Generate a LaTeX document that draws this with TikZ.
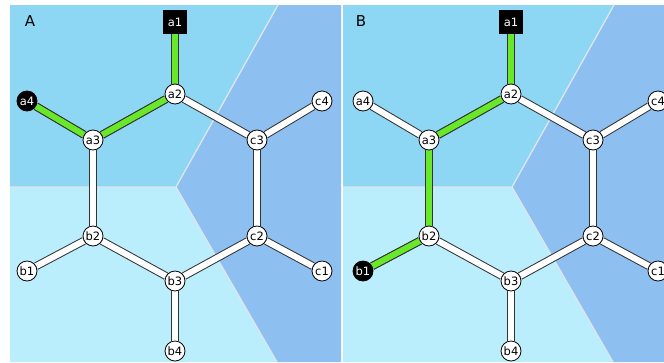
\documentclass[tikz,border=0pt]{standalone}
\usepackage{fontspec}
\setmainfont{DejaVu Sans}
\pgfdeclarelayer{back}
\pgfdeclarelayer{bonds}
\pgfsetlayers{back,bonds,main}
\definecolor{regA}{RGB}{141,215,245}
\definecolor{regB}{RGB}{187,238,253}
\definecolor{regC}{RGB}{141,191,240}
\definecolor{bondgreen}{RGB}{104,232,40}
\definecolor{sepline}{RGB}{222,230,236}
\tikzset{
  atom/.style={circle, draw=black, fill=white, line width=0.8bp, inner sep=0pt,
    minimum size=20bp, font=\fontsize{11.5bp}{13bp}\selectfont},
  selatom/.style={atom, fill=black, text=white},
  rootbox/.style={rectangle, fill=black, text=white, inner sep=0pt,
    minimum size=24bp, font=\fontsize{11.5bp}{13bp}\selectfont},
  bondout/.style={line width=8bp, draw=black!80},
  bondin/.style={line width=6bp, draw=white},
  greenin/.style={line width=6bp, draw=bondgreen},
  sep/.style={draw=sepline, line width=1.3bp},
  panellabel/.style={font=\fontsize{15bp}{17bp}\selectfont, text=black},
}
% #1 prefix, #2 left edge, #3 right edge, #4 label, #5 label x, #6 style a4, #7 style b1
\newcommand\hexpanel[7]{%
  \begin{pgfonlayer}{back}
    \fill[regA] (#2,5) -- (278,5) -- (176,187) -- (#2,187) -- cycle;
    \fill[regB] (#2,187) -- (176,187) -- (277,362) -- (#2,362) -- cycle;
    \fill[regC] (278,5) -- (#3,5) -- (#3,362) -- (277,362) -- (176,187) -- cycle;
    \draw[sep] (#2,187) -- (176,187) -- (278,5);
    \draw[sep] (176,187) -- (277,362);
  \end{pgfonlayer}
  \node[panellabel] (#1lab) at (#5,21) {#4};
  \node[rootbox] (#1a1) at (175,22) {a1};
  \node[atom] (#1a2) at (175,94) {a2};
  \node[atom] (#1a3) at (93,140) {a3};
  \node[#6] (#1a4) at (27,101) {a4};
  \node[atom] (#1c3) at (257,140) {c3};
  \node[atom] (#1c4) at (322,101) {c4};
  \node[atom] (#1b2) at (93,236) {b2};
  \node[atom] (#1c2) at (257,236) {c2};
  \node[#7] (#1b1) at (27,271) {b1};
  \node[atom] (#1c1) at (322,271) {c1};
  \node[atom] (#1b3) at (175,281) {b3};
  \node[atom] (#1b4) at (175,351) {b4};
  \begin{pgfonlayer}{bonds}
    \foreach \u/\v in {a1/a2,a2/a3,a2/c3,a3/a4,a3/b2,b2/b1,b2/b3,b3/b4,b3/c2,c2/c1,c2/c3,c3/c4}
      \draw[bondout] (#1\u) -- (#1\v);
    \foreach \u/\v in {a1/a2,a2/a3,a2/c3,a3/a4,a3/b2,b2/b1,b2/b3,b3/b4,b3/c2,c2/c1,c2/c3,c3/c4}
      \draw[bondin] (#1\u) -- (#1\v);
  \end{pgfonlayer}
}
\begin{document}
\begin{tikzpicture}[x=1bp,y=-1bp]
\useasboundingbox (0,0) rectangle (664,362);
\begin{pgfonlayer}{back}
  \fill[white] (0,0) rectangle (664,362);
\end{pgfonlayer}
% Panel A
\begin{scope}
  \hexpanel{A}{10}{341}{A}{30}{selatom}{atom}
  \begin{pgfonlayer}{bonds}
    \foreach \u/\v in {a1/a2,a2/a3,a3/a4} \draw[bondout] (A\u) -- (A\v);
    \foreach \u/\v in {a1/a2,a2/a3,a3/a4} \draw[greenin] (A\u) -- (A\v);
  \end{pgfonlayer}
\end{scope}
% Panel B
\begin{scope}[shift={(336,0)}]
  \hexpanel{B}{7}{328}{B}{25}{atom}{selatom}
  \begin{pgfonlayer}{bonds}
    \foreach \u/\v in {a1/a2,a2/a3,a3/b2,b2/b1} \draw[bondout] (B\u) -- (B\v);
    \foreach \u/\v in {a1/a2,a2/a3,a3/b2,b2/b1} \draw[greenin] (B\u) -- (B\v);
  \end{pgfonlayer}
\end{scope}
\end{tikzpicture}
\end{document}
